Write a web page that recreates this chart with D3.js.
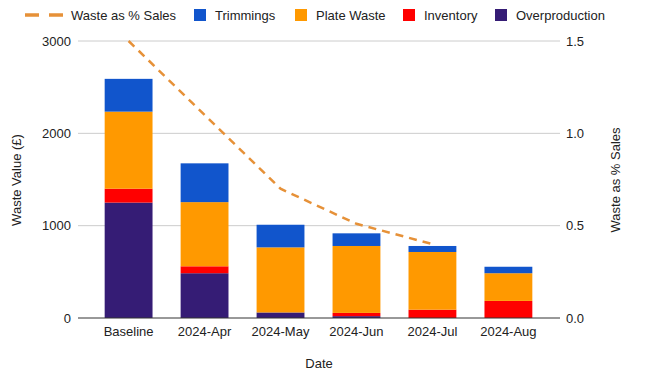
<!DOCTYPE html>
<html>
<head>
<meta charset="utf-8">
<script src="https://cdn.jsdelivr.net/npm/d3@7"></script>
<style>
  body { margin: 0; background: #fff; }
  text { font-family: "Liberation Sans", Arial, sans-serif; }
</style>
</head>
<body>
<div id="chart"></div>
<script>
var dates = ["Baseline", "2024-Apr", "2024-May", "2024-Jun", "2024-Jul", "2024-Aug"];
var overproduction = [1250, 485, 60, 20, 0, 0];
var inventory = [150, 75, 0, 35, 90, 185];
var plateWaste = [835, 695, 705, 725, 625, 300];
var trimmings = [355, 420, 245, 137, 65, 70];
var wastePct = [1.5, 1.1, 0.7, 0.51, 0.4, null];
var leftTicks = [0, 1000, 2000, 3000];
var rightTicks = [0, 0.5, 1.0, 1.5];

var width = 648, height = 374;
var svg = d3.select("#chart").append("svg")
  .attr("width", width)
  .attr("height", height);

var series = [
  {name: "Overproduction", values: overproduction, color: "#351c75"},
  {name: "Inventory", values: inventory, color: "#ff0000"},
  {name: "Plate Waste", values: plateWaste, color: "#ff9900"},
  {name: "Trimmings", values: trimmings, color: "#1155cc"}
];

var xScale = d3.scaleBand()
  .domain(dates)
  .range([91, 546])
  .paddingInner(0.37)
  .paddingOuter(0.18);

var yScale = d3.scaleLinear().domain([0, 3000]).range([318, 41]);
var y2Scale = d3.scaleLinear().domain([0, 1.5]).range([318, 41]);

// gridlines
svg.append("g").selectAll("line")
  .data(leftTicks.filter(function(d) { return d > 0; }))
  .enter().append("line")
  .attr("x1", 78).attr("x2", 560)
  .attr("y1", function(d) { return yScale(d); })
  .attr("y2", function(d) { return yScale(d); })
  .attr("stroke", "#cccccc")
  .attr("stroke-width", 1);

// stacked bars
var table = dates.map(function(d, i) {
  var row = {date: d};
  series.forEach(function(s) { row[s.name] = s.values[i]; });
  return row;
});
var stacked = d3.stack().keys(series.map(function(s) { return s.name; }))(table);

svg.append("g").selectAll("g")
  .data(stacked)
  .enter().append("g")
  .attr("fill", function(d, i) { return series[i].color; })
  .selectAll("rect")
  .data(function(d) { return d; })
  .enter().append("rect")
  .attr("x", function(d) { return xScale(d.data.date); })
  .attr("width", xScale.bandwidth())
  .attr("y", function(d) { return yScale(d[1]); })
  .attr("height", function(d) { return yScale(d[0]) - yScale(d[1]); });

// baseline
svg.append("line")
  .attr("x1", 78).attr("x2", 560)
  .attr("y1", yScale(0)).attr("y2", yScale(0))
  .attr("stroke", "#333333")
  .attr("stroke-width", 1);

// line series
var line = d3.line()
  .defined(function(d) { return d != null; })
  .x(function(d, i) { return xScale(dates[i]) + xScale.bandwidth() / 2; })
  .y(function(d) { return y2Scale(d); });

svg.append("path")
  .datum(wastePct)
  .attr("d", line)
  .attr("fill", "none")
  .attr("stroke", "#e69138")
  .attr("stroke-width", 2.5)
  .attr("stroke-dasharray", "8,6");

// axes labels
svg.append("g").selectAll("text")
  .data(leftTicks)
  .enter().append("text")
  .attr("x", 71)
  .attr("y", function(d) { return yScale(d) + 4.5; })
  .attr("text-anchor", "end")
  .attr("font-size", 13)
  .attr("fill", "#222")
  .text(function(d) { return d; });

svg.append("g").selectAll("text")
  .data(rightTicks)
  .enter().append("text")
  .attr("x", 566)
  .attr("y", function(d) { return y2Scale(d) + 4.5; })
  .attr("font-size", 13)
  .attr("fill", "#222")
  .text(function(d) { return d.toFixed(1); });

svg.append("g").selectAll("text")
  .data(dates)
  .enter().append("text")
  .attr("x", function(d) { return xScale(d) + xScale.bandwidth() / 2; })
  .attr("y", 335.5)
  .attr("text-anchor", "middle")
  .attr("font-size", 13)
  .attr("fill", "#222")
  .text(function(d) { return d; });

svg.append("text")
  .attr("x", 319).attr("y", 367.5)
  .attr("text-anchor", "middle")
  .attr("font-size", 13)
  .attr("fill", "#222")
  .text("Date");

svg.append("text")
  .attr("transform", "translate(21,180) rotate(-90)")
  .attr("text-anchor", "middle")
  .attr("font-size", 13)
  .attr("fill", "#222")
  .text("Waste Value (£)");

svg.append("text")
  .attr("transform", "translate(620,180) rotate(-90)")
  .attr("text-anchor", "middle")
  .attr("font-size", 13)
  .attr("fill", "#222")
  .text("Waste as % Sales");

// legend
var legend = svg.append("g");
legend.append("line")
  .attr("x1", 25).attr("x2", 63)
  .attr("y1", 15).attr("y2", 15)
  .attr("stroke", "#e69138")
  .attr("stroke-width", 3.5)
  .attr("stroke-dasharray", "14,10");
legend.append("text")
  .attr("x", 71).attr("y", 19.5)
  .attr("font-size", 13).attr("fill", "#222")
  .text("Waste as % Sales");

var legendItems = [
  {name: "Trimmings", color: "#1155cc", x: 194},
  {name: "Plate Waste", color: "#ff9900", x: 295},
  {name: "Inventory", color: "#ff0000", x: 403},
  {name: "Overproduction", color: "#351c75", x: 495}
];
legendItems.forEach(function(d) {
  legend.append("rect")
    .attr("x", d.x).attr("y", 9)
    .attr("width", 12).attr("height", 12)
    .attr("fill", d.color);
  legend.append("text")
    .attr("x", d.x + 21).attr("y", 19.5)
    .attr("font-size", 13).attr("fill", "#222")
    .text(d.name);
});
</script>
</body>
</html>
